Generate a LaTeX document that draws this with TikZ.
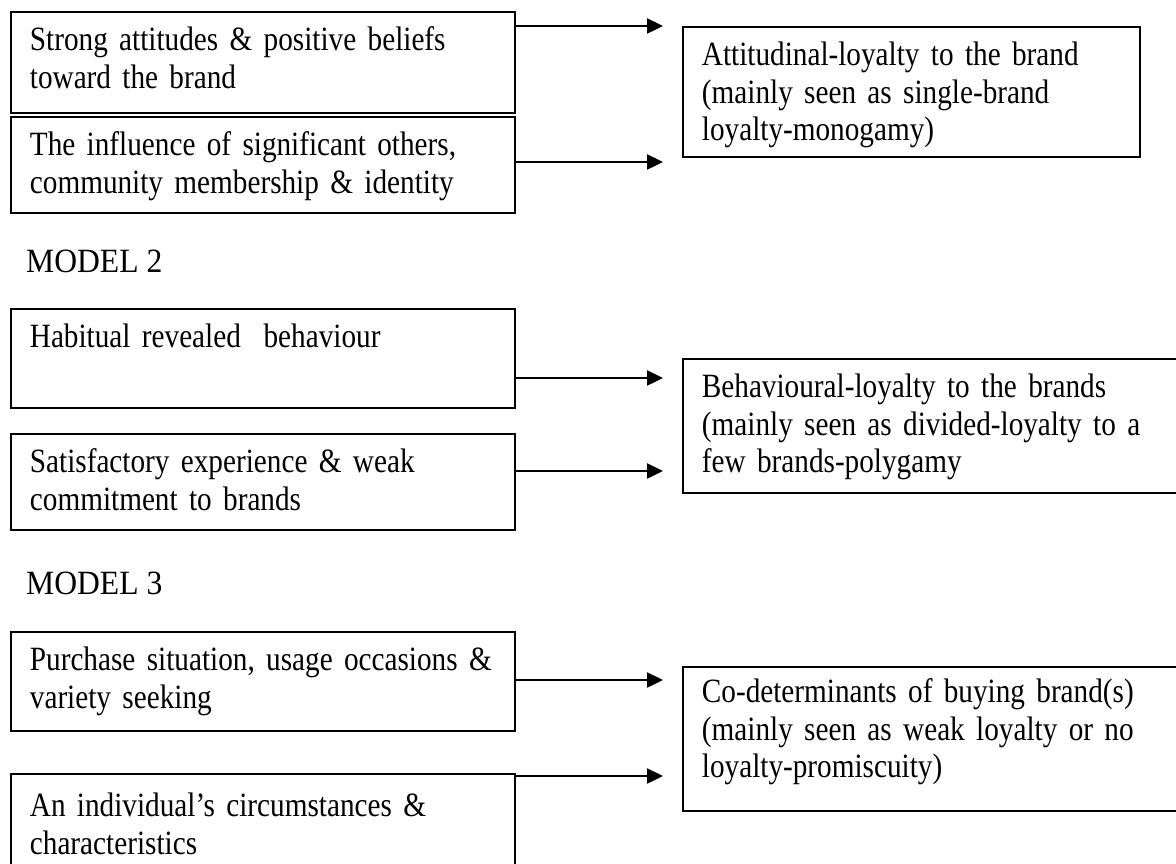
\documentclass[tikz,border=0pt]{standalone}
\usepackage{fontspec}
\setmainfont{Liberation Serif}[FakeStretch=0.86, WordSpace=0.85]
\newfontfamily\headfont{Liberation Serif}[FakeStretch=0.93]
\usetikzlibrary{arrows.meta,calc}
\begin{document}
\begin{tikzpicture}[x=1pt,y=-1pt,
  box/.style={draw, line width=1.8pt, rectangle, anchor=north west,
    inner xsep=19pt, inner ysep=0pt, align=left,
    font=\fontsize{34}{37.5}\selectfont},
  arr/.style={line width=2.4pt, -{Triangle[length=16pt,width=15pt]}, shorten >=19pt},
  head/.style={anchor=base west, inner sep=0pt, font=\headfont\fontsize{34}{38}\selectfont}]
\useasboundingbox (0,0) rectangle (1176,863);
\clip (0,0) rectangle (1176,863);

% Model 1
\node[box, text width=466pt, text height=39pt, text depth=62pt] (a1) at (10,11)
  {Strong attitudes \& positive beliefs\\toward the brand};
\node[box, text width=466pt, text height=39pt, text depth=57pt] (b1) at (10,116)
  {The influence of significant others,\\community membership \& identity};
\node[box, text width=419pt, text height=39pt, text depth=91pt] (r1) at (682,26)
  {Attitudinal-loyalty to the brand\\(mainly seen as single-brand\\loyalty-monogamy)};

% Model 2
\node[head] (m2) at (26,272) {MODEL 2};
\node[box, text width=466pt, text height=39pt, text depth=60pt] (c1) at (10,308)
  {Habitual revealed\ \ behaviour};
\node[box, text width=466pt, text height=39pt, text depth=57pt] (d1) at (10,433)
  {Satisfactory experience \& weak\\commitment to brands};
\node[box, text width=480pt, text height=39pt, text depth=95pt] (r2) at (682,358)
  {Behavioural-loyalty to the brands\\(mainly seen as divided-loyalty to a\\few brands-polygamy};

% Model 3
\node[head] (m3) at (26,594) {MODEL 3};
\node[box, text width=466pt, text height=39pt, text depth=60pt] (e1) at (10,631)
  {Purchase situation, usage occasions \&\\variety seeking};
\node[box, text width=466pt, text height=43pt, text depth=110pt] (f1) at (10,773)
  {An individual’s circumstances \&\\characteristics};
\node[box, text width=480pt, text height=36pt, text depth=108pt] (r3) at (682,666)
  {Co-determinants of buying brand(s)\\(mainly seen as weak loyalty or no\\loyalty-promiscuity)};

% arrow start points on the right sides of the factor boxes
\coordinate (pa) at (a1.east |- r1.north);
\coordinate (pb) at ($(b1.north east)+(0,46)$);
\coordinate (pc) at ($(c1.north east)+(0,70)$);
\coordinate (pd) at ($(d1.north east)+(0,38)$);
\coordinate (pe) at ($(e1.north east)+(0,49)$);
\coordinate (pf) at ($(f1.north east)+(0,3)$);

\draw[arr] (pa) -- (pa -| r1.west);
\draw[arr] (pb) -- (pb -| r1.west);
\draw[arr] (pc) -- (pc -| r2.west);
\draw[arr] (pd) -- (pd -| r2.west);
\draw[arr] (pe) -- (pe -| r3.west);
\draw[arr] (pf) -- (pf -| r3.west);
\end{tikzpicture}
\end{document}
